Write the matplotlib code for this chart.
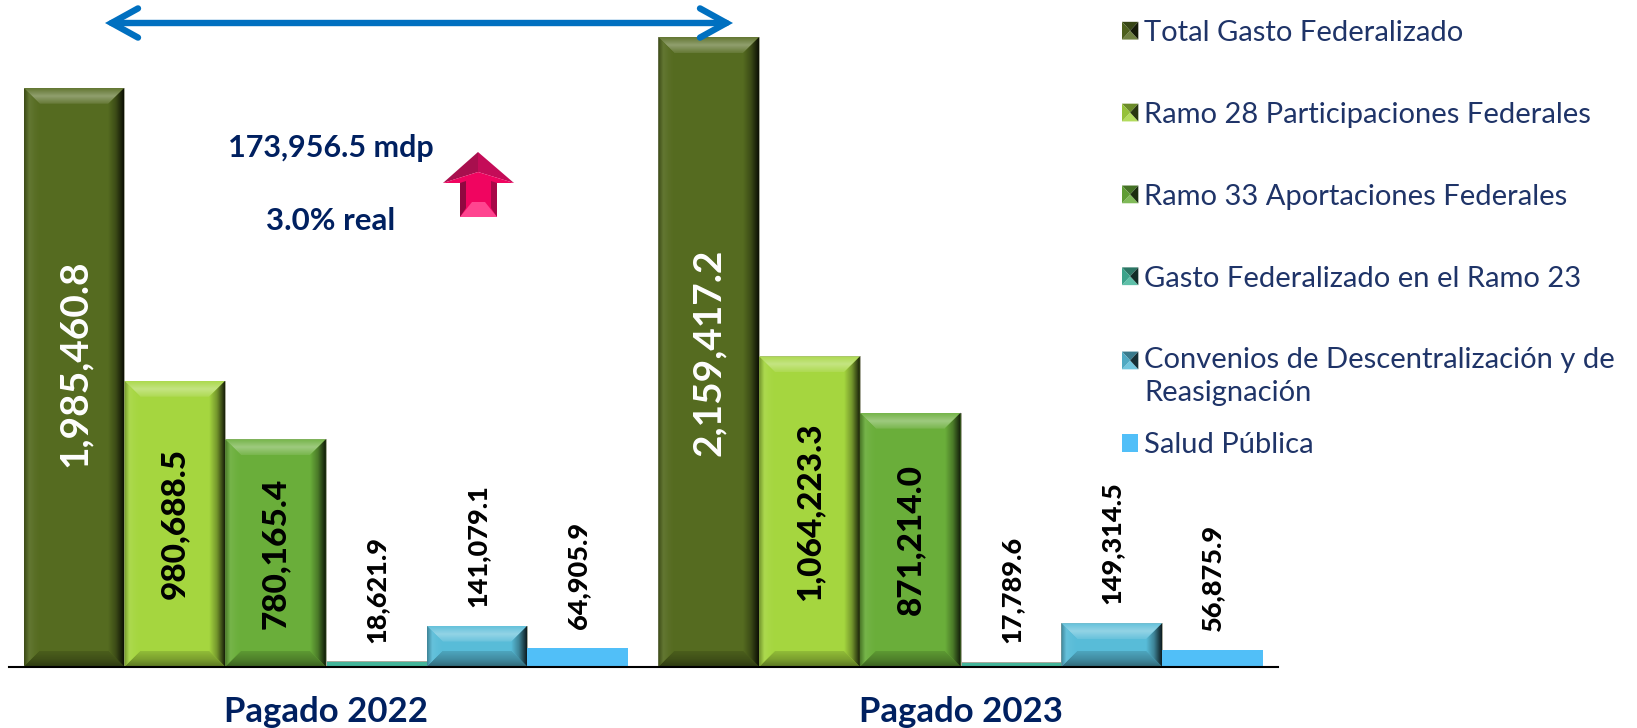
import numpy as np
import matplotlib
matplotlib.use("Agg")
import matplotlib.pyplot as plt
from matplotlib.colors import to_rgb
from matplotlib.legend_handler import HandlerBase
from matplotlib.patches import FancyArrowPatch, Patch, Polygon

W, H = 1637, 728
plt.rcParams['font.family'] = ['Lato', 'DejaVu Sans']

periods = ["Pagado 2022", "Pagado 2023"]
series = ["Total Gasto Federalizado", "Ramo 28 Participaciones Federales",
          "Ramo 33 Aportaciones Federales", "Gasto Federalizado en el Ramo 23",
          "Convenios de Descentralización y de\nReasignación", "Salud Pública"]
pagado_2022 = [1985460.8, 980688.5, 780165.4, 18621.9, 141079.1, 64905.9]
pagado_2023 = [2159417.2, 1064223.3, 871214.0, 17789.6, 149314.5, 56875.9]
colors = ["#556B20", "#A5D63F", "#6AAE3A", "#43B59A", "#58BCD8", "#51BFF8"]

NAVY = "#002060"
GROUP_STEP = 6.3
BEVEL = 16  # px
PX_PER_UNIT = 2.916e-4


def mix(c, other, t):
    c, other = np.array(to_rgb(c)), np.array(to_rgb(other))
    return c * (1 - t) + other * t


def ramp(stops, n=40):
    stops = [to_rgb(s) for s in stops]
    pos = np.linspace(0, 1, len(stops))
    t = np.linspace(0, 1, n)
    return np.stack([np.interp(t, pos, [s[k] for s in stops]) for k in range(3)], axis=-1)


def facet(ax, pts, extent, stops, vertical):
    # one slanted side of a bevel, gradient clipped to the trapezoid
    g = ramp(stops)
    g = g[:, None, :] if vertical else g[None, :, :]
    im = ax.imshow(g, extent=extent, aspect='auto', origin='upper', zorder=3, interpolation='bilinear')
    im.set_clip_path(Polygon(pts, closed=True, transform=ax.transData))


def bevel_bar(ax, x, val, col, dx, dy):
    l, r = x - 0.5, x + 0.5
    ax.bar(x, val, width=1, color=col, edgecolor="#A8AA9C", linewidth=0.7, zorder=2)
    if val < dy * 2:
        return
    il, ir, ib, it = l + dx, r - dx, dy, val - dy
    facet(ax, [(l, val), (r, val), (ir, it), (il, it)], (l, r, it, val),
          [mix(col, "white", .08), mix(col, "white", .35), mix(col, "white", .1)], True)
    facet(ax, [(l, 0), (r, 0), (ir, ib), (il, ib)], (l, r, 0, ib),
          [mix(col, "black", .12), mix(col, "black", .25), mix(col, "black", .45)], True)
    facet(ax, [(l, 0), (l, val), (il, it), (il, ib)], (l, il, 0, val),
          [mix(col, "black", .3), mix(col, "white", .08), mix(col, "white", .03), col], False)
    facet(ax, [(r, 0), (r, val), (ir, it), (ir, ib)], (ir, r, 0, val),
          [col, mix(col, "black", .3), mix(col, "black", .85)], False)


class SwatchHandler(HandlerBase):
    # little pyramid swatch like the bars, flat for the last series
    def create_artists(self, legend, orig, xd, yd, w, h, fontsize, trans):
        col = orig.get_facecolor()
        # two-line entry: swatch goes next to the first line
        up = fontsize * 0.57 if "\n" in orig.get_label() else 0
        x0, y0, x1, y1 = -xd, -yd + up, -xd + w, -yd + h + up
        cx, cy = (x0 + x1) / 2, (y0 + y1) / 2
        if orig.get_label() == series[-1]:
            return [Polygon([(x0, y0), (x1, y0), (x1, y1), (x0, y1)], fc=col, ec='none', transform=trans)]
        tris = [([(x0, y1), (x1, y1), (cx, cy)], mix(col, "black", .35)),
                ([(x0, y0), (x1, y0), (cx, cy)], mix(col, "white", .15)),
                ([(x0, y0), (x0, y1), (cx, cy)], mix(col, "black", .1)),
                ([(x1, y0), (x1, y1), (cx, cy)], mix(col, "black", .75))]
        return [Polygon(p, fc=c, ec='none', transform=trans) for p, c in tris]


fig = plt.figure(figsize=(W / 100, H / 100), dpi=100, facecolor='white')
base_px, top_px, left_px, right_px = 666.7, 10, 8.5, 1278
ax = fig.add_axes([left_px / W, 1 - base_px / H, (right_px - left_px) / W, (base_px - top_px) / H])
xlim = (-0.65, GROUP_STEP + 5.65)
ylim = (0, (base_px - top_px) / PX_PER_UNIT)
dx = BEVEL / ((right_px - left_px) / (xlim[1] - xlim[0]))
dy = BEVEL / PX_PER_UNIT

for g, vals in enumerate([pagado_2022, pagado_2023]):
    for i, v in enumerate(vals):
        x = g * GROUP_STEP + i
        if i == 5:
            ax.bar(x, v, width=1, color=colors[i], zorder=2)
        else:
            bevel_bar(ax, x, v, colors[i], dx, dy)
        txt = f"{v:,.1f}"
        if i == 0:
            # first total sits a bit above the middle of its bar
            ax.annotate(txt, (x, v / 2), xytext=(0, 10 if g == 0 else 0), textcoords='offset points', rotation=90,
                        ha='center', va='center', color='white', fontsize=28, fontweight='bold', zorder=5)
        elif i < 3:
            ax.text(x, v / 2, txt, rotation=90, ha='center', va='center', color='black',
                    fontsize=24, fontweight='black', zorder=5)
        else:
            ax.annotate(txt, (x, v), xytext=(0, 13.5), textcoords='offset points', rotation=90,
                        ha='center', va='bottom', color='black', fontsize=19.5, fontweight='black', zorder=5)

ax.set_xlim(*xlim)
ax.set_ylim(*ylim)
ax.set_xticks([2.5, GROUP_STEP + 2.5])
ax.set_xticklabels(periods, fontsize=25, fontweight='bold', color=NAVY)
ax.tick_params(axis='x', length=0, pad=21)
ax.set_yticks([])
for s in ['top', 'left', 'right']:
    ax.spines[s].set_visible(False)
ax.spines['bottom'].set_linewidth(1.5)
ax.spines['bottom'].set_zorder(6)
ax.patch.set_alpha(0)

handles = [Patch(facecolor=c, label=s) for c, s in zip(colors, series)]
leg_opts = dict(loc='upper left', frameon=False, fontsize=21, labelcolor="#1F3468", borderpad=0,
                borderaxespad=0, handlelength=0.56, handleheight=0.56, handletextpad=0.2,
                labelspacing=1.915, handler_map={Patch: SwatchHandler()})
# the gap before Salud Pública is tighter than the rest, so it gets its own legend
leg = fig.legend(handles=handles[:5], labels=series[:5], bbox_to_anchor=(1122 / W, 1 - 20 / H), **leg_opts)
leg.get_texts()[4].set_linespacing(1.33)
fig.legend(handles=handles[5:], labels=series[5:], bbox_to_anchor=(1122 / W, 1 - 432 / H), **leg_opts)

# overlay in pixel coordinates for the callouts
ov = fig.add_axes([0, 0, 1, 1], zorder=10)
ov.set_xlim(0, W)
ov.set_ylim(H, 0)
ov.axis('off')

ov.add_patch(FancyArrowPatch((105, 23), (733, 23), arrowstyle="<->,head_length=19,head_width=10.5",
                             mutation_scale=1, color="#0070C0", lw=4.6, shrinkA=0, shrinkB=0,
                             capstyle='round', joinstyle='miter'))
ov.text(331, 148, "173,956.5 mdp", ha='center', va='center', color=NAVY, fontsize=22, fontweight='bold')
ov.text(331, 221, "3.0% real", ha='center', va='center', color=NAVY, fontsize=22.5, fontweight='bold')

# pink up arrow
ov.add_patch(Polygon([(443, 183), (478, 152), (478, 172)], fc="#A80F4E", ec='none'))
ov.add_patch(Polygon([(514, 183), (478, 152), (478, 172)], fc="#C40C58", ec='none'))
ov.add_patch(Polygon([(443, 183), (478, 172), (514, 183), (497, 183), (497, 217), (460, 217), (460, 183)], fc="#F00560", ec='none'))
ov.add_patch(Polygon([(460, 183), (466, 181), (466, 208), (460, 217)], fc="#900840", ec='none'))
ov.add_patch(Polygon([(497, 183), (491, 181), (491, 208), (497, 217)], fc="#A80848", ec='none'))
ov.add_patch(Polygon([(460, 217), (472, 202), (485, 202), (497, 217)], fc="#FF4590", ec='none'))

fig.savefig("out.png", dpi=100, facecolor='white')
